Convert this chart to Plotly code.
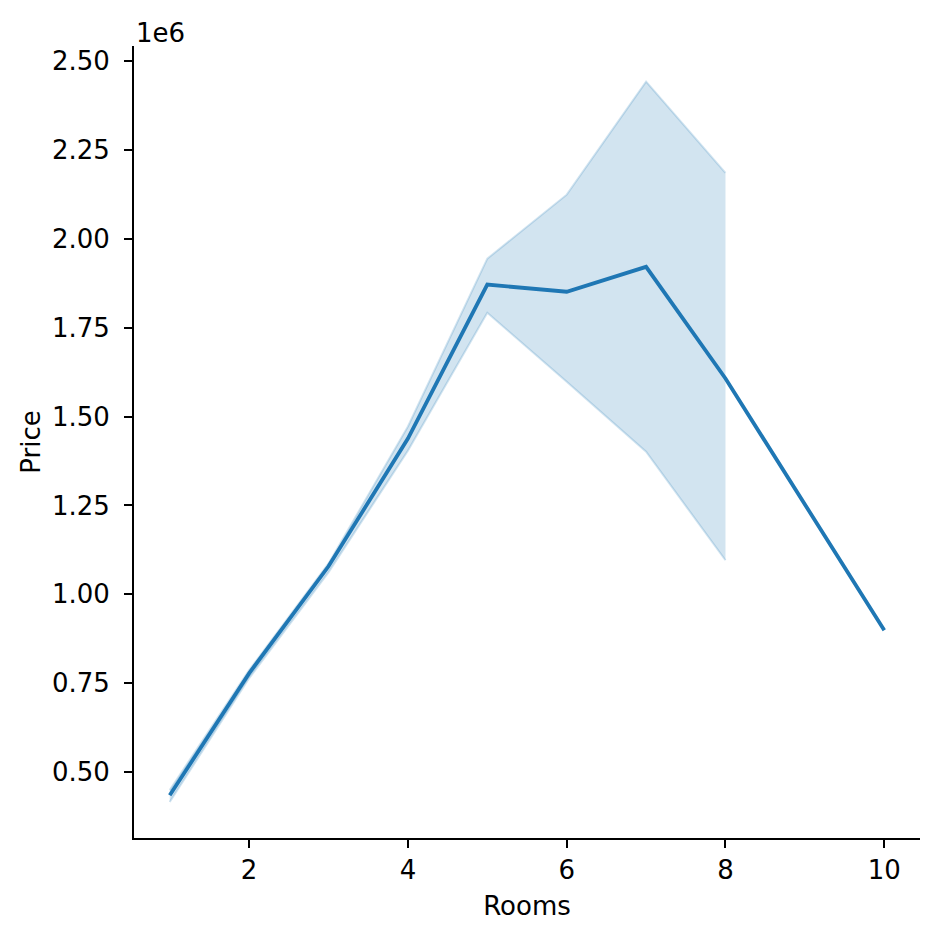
import plotly.graph_objects as go

# mean price per number of rooms, with 95% CI band (values in dollars)
rooms = [1, 2, 3, 4, 5, 6, 7, 8, 10]
price_mean = [435000, 778000, 1079000, 1438000, 1871000, 1851000, 1921000, 1607000, 899000]

ci_rooms = [1, 2, 3, 4, 5, 6, 7, 8]
ci_upper = [450000, 787000, 1087000, 1472000, 1944000, 2124000, 2442000, 2185000]
ci_lower = [416000, 764000, 1062000, 1404000, 1792000, 1598000, 1401000, 1096000]

y_ticks = [500000, 750000, 1000000, 1250000, 1500000, 1750000, 2000000, 2250000, 2500000]
y_tick_text = ['0.50', '0.75', '1.00', '1.25', '1.50', '1.75', '2.00', '2.25', '2.50']
x_ticks = [2, 4, 6, 8, 10]

blue = '#1f77b4'
band = 'rgba(31,119,180,0.2)'

fig = go.Figure()
fig.add_trace(go.Scatter(x=ci_rooms, y=ci_lower, mode='lines',
                         line=dict(color=band, width=2), showlegend=False, hoverinfo='skip'))
fig.add_trace(go.Scatter(x=ci_rooms, y=ci_upper, mode='lines', fill='tonexty', fillcolor=band,
                         line=dict(color=band, width=2), showlegend=False, hoverinfo='skip'))
fig.add_trace(go.Scatter(x=rooms, y=price_mean, mode='lines',
                         line=dict(color=blue, width=3.8), showlegend=False))

axis_style = dict(showgrid=False, zeroline=False, showline=True, linecolor='black', linewidth=1.8,
                  ticks='outside', ticklen=8, tickwidth=1.8, tickcolor='black',
                  tickfont=dict(size=26, color='black'))

fig.update_xaxes(range=[0.55, 10.45], tickvals=x_ticks,
                 title=dict(text='Rooms', font=dict(size=26, color='black'), standoff=13),
                 **axis_style)
fig.update_yaxes(range=[315000, 2542000], tickvals=y_ticks, ticktext=y_tick_text,
                 ticklabelstandoff=9,
                 title=dict(text='Price', font=dict(size=26, color='black'), standoff=4),
                 **axis_style)

fig.add_annotation(text='1e6', xref='paper', yref='paper', x=0, y=1, xanchor='left', yanchor='bottom',
                   showarrow=False, font=dict(size=26, color='black'), xshift=0, yshift=-4)

# page body adds an 8px offset, margins compensate for it
fig.update_layout(width=940, height=940, margin=dict(l=126, r=28, t=38, b=110),
                  plot_bgcolor='white', paper_bgcolor='white',
                  font=dict(family='DejaVu Sans', color='black'))

fig.write_html("out.html")
